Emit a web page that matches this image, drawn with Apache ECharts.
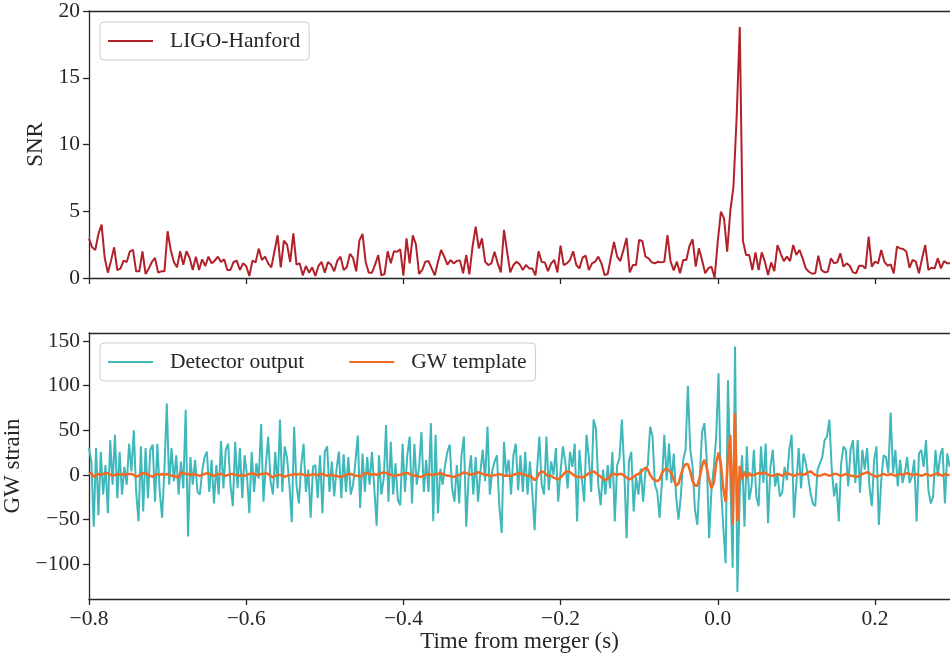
<!DOCTYPE html>
<html>
<head>
<meta charset="utf-8">
<script src="https://cdn.jsdelivr.net/npm/echarts@6/dist/echarts.min.js"></script>
<style>html,body{margin:0;padding:0;background:#fff}#c{width:950px;height:656px}</style>
</head>
<body>
<div id="c"></div>
<script>
// ---- data ----
const snrStart = -0.8, snrStep = 0.004;
const snrValues = [
2.95,2.3,2.1,3.3,4.0,1.5,0.4,1.3,2.3,0.6,
0.7,1.3,1.2,2.0,2.1,0.5,0.5,2.0,0.3,0.7,
1.2,1.5,0.4,0.5,0.5,3.5,2.1,1.2,0.8,2.0,
1.0,2.0,1.5,0.6,1.6,0.6,1.4,0.9,1.6,1.1,
1.3,1.6,1.2,1.4,0.6,0.6,1.2,1.3,0.6,1.1,
0.9,0.15,1.3,1.17,2.2,1.35,1.6,1.1,0.8,2.0,
3.2,0.8,2.8,2.5,1.2,3.35,1.0,1.1,0.2,0.9,
0.4,0.8,0.15,0.9,1.2,0.4,1.2,1.0,0.5,1.3,
1.6,0.6,0.8,1.8,1.5,0.5,2.8,3.3,1.2,0.4,
0.4,1.0,
1.72,0.2,0.3,2.0,1.1,2.0,1.97,2.15,0.17,2.97,
1.1,3.2,2.5,0.3,0.6,1.22,1.27,0.72,0.2,1.22,
2.1,1.6,1.0,1.35,1.1,1.27,1.32,0.35,1.72,0.27,
2.35,3.85,2.22,2.97,1.22,0.97,1.1,1.97,1.1,0.42,
3.6,1.97,0.42,0.97,1.22,1.02,0.6,0.97,0.72,0.72,
0.2,2.0,1.2,1.17,0.52,1.1,1.35,0.42,2.42,0.97,
1.1,1.35,2.0,0.97,0.72,1.52,1.67,0.6,1.1,1.22,
1.6,1.1,0.22,0.3,1.52,2.7,1.6,1.27,2.1,3.0,
0.42,0.97,0.97,2.85,2.77,1.6,1.47,1.17,1.1,1.22,
1.17,1.22,3.22,1.22,0.57,1.22,0.35,1.35,1.35,2.4,
2.9,0.85,2.22,1.35,0.35,0.72,0.85,0.02,2.72,4.97,
4.47,1.97,5.02,6.84,12.0,18.8,2.8,1.72,1.72,0.6,
1.92,0.6,1.92,1.22,0.22,1.17,0.52,2.47,1.85,1.27,
1.6,1.27,2.47,1.72,2.1,1.47,0.72,0.47,0.32,0.35,
1.67,0.6,0.42,0.47,1.47,1.1,1.17,1.85,0.85,1.1,
0.92,0.42,0.35,0.92,0.92,0.72,3.1,0.85,1.22,1.1,
2.1,1.22,0.92,1.02,0.35,2.35,2.22,2.17,1.97,0.77,
1.35,1.22,0.35,1.47,2.47,0.6,0.77,0.72,1.47,0.72,
1.27,1.1,1.1
];

const strainStart = -0.8, strainStep = 0.003;
const detectorValues = [
30,15,-58,30,-45,26,-22,11,-43,39,
-11,45,-26,26,-22,9,-11,35,4,50,
-19,-52,32,-41,30,-26,28,34,-30,35,
-19,-48,7,80,-11,30,-7,22,-22,15,
-15,73,-69,20,-11,17,-19,-22,4,20,
26,-19,17,-32,11,-22,38,-15,28,35,
-11,-35,37,-15,30,-26,22,0,-43,26,
-19,13,-4,57,-30,11,43,-7,-22,26,
-15,62,-19,32,19,-11,-53,54,-11,-32,
11,35,-19,6,-48,9,11,-26,22,-43,
26,32,-19,15,-24,7,26,-26,23,-19,
20,-22,-11,15,44,-37,24,-19,20,-11,
26,-15,-57,
22,-22,-4,56,-30,37,-22,13,-28,-34,
35,-19,22,43,-32,35,-11,9,48,-19,
17,-19,58,-52,45,-43,7,-11,11,26,
34,-15,-30,11,-32,22,43,-58,-2,22,
-22,20,-30,4,28,-7,54,-22,4,15,
22,-34,-65,37,0,
17,-22,22,35,-17,22,-19,26,-22,15,
-19,-62,4,43,-11,-22,43,-17,15,0,
30,-30,4,32,15,-15,26,9,35,-52,
28,-4,-30,45,19,-19,62,52,-11,-34,
6,-22,11,-15,26,-52,11,19,62,7,
-71,15,26,-41,-2,-22,7,-30,4,11,
54,43,-11,-19,-48,-7,
45,-6,35,-9,24,-24,-50,-24,17,28,
100,28,9,-39,-56,-6,48,58,17,-71,
-17,9,43,114,-13,-58,-99,106,-5,-104,
144,-131,-20,22,-58,32,-28,-13,28,-24,
-35,32,-9,35,-54,9,28,-13,2,-24,
-20,9,-6,28,45,-48,-9,30,-15,24,
13,-2,-20,-32,-35,6,13,20,39,43,
62,7,-24,-9,-52,13,32,28,-13,28,
39,-9,39,-20,28,6,30,-13,-35,17,
32,-56,-6,22,20,2,70,2,28,-13,
17,-9,2,20,-9,-2,17,-52,24,28,
9,39,-17,-32,-24,28,-2,22,30,-32,
24,9
];
const templateValues = [
1,2,-2,0,1,0,1,2,2,0,
-1,0,1,0,1,0,1,1,1,0,
-2,-1,1,2,2,0,-1,-2,0,1,
0,1,0,1,0,-1,-1,-2,-3,3,
2,1,1,0,1,0,0,-1,0,1,
2,1,0,-1,0,1,1,0,-1,0,
1,1,0,0,-1,0,-1,0,1,2,
1,0,0,1,1,2,1,-1,-3,-1,
0,0,-1,-2,-1,0,0,1,0,1,
1,0,0,-1,0,1,0,0,1,1,
0,-1,0,0,-1,-1,-2,-2,-1,0,
1,1,0,-1,-1,-2,0,2,2,1,
0,1,0,
1,2,3,2,1,0,-1,-1,0,0,
1,2,2,1,0,-1,-1,-2,-2,-1,
0,1,0,0,1,1,2,1,0,-1,
-1,-2,-2,-1,0,1,3,2,1,0,
1,2,3,2,1,0,0,-1,-1,0,
0,1,0,-1,-1,-1,-1,0,1,2,
1,1,0,-1,-1,-3,-6,-3,2,4,
3,0,-1,-1,-3,-4,-5,-3,0,3,
4,3,1,-1,-2,-2,-3,-2,0,2,
3,4,2,0,-2,-4,-6,-4,-1,1,
1,0,1,1,-1,-3,-5,-4,-2,0,
1,3,6,8,6,0,-4,-6,-7,-5,
2,
6,7,5,2,-5,-12,-10,0,8,12,
12,4,-7,-12,-12,-3,10,17,8,-5,
-15,-9,13,25,12,-15,-30,20,45,-56,
69,-52,10,-5,4,-3,2,-1,0,1,
2,1,3,2,0,-1,-1,0,1,0,
-1,1,2,1,0,-1,0,1,1,0,
1,3,4,2,0,-1,-1,0,1,0,
-1,0,1,1,0,-1,0,1,0,-1,
-1,-2,-2,0,1,2,3,2,0,-1,
-2,-1,0,1,0,0,1,0,-1,0,
1,0,1,2,1,0,0,1,0,-1,
0,1,0,-1,0,1,2,0,-1,1,
0,0
];

const xTickValues = [-0.8, -0.6, -0.4, -0.2, 0, 0.2];
const snrTickValues = [0, 5, 10, 15, 20];
const strainTickValues = [-100, -50, 0, 50, 100, 150];

// ---- build ----
function pairs(start, step, vals) {
  return vals.map((v, i) => [start + i * step, v]);
}
const FONT = 'Liberation Serif';
const INK = '#262626';
const XMIN = -0.8, XMAX = 0.2955;
const fmtX = v => (v < 0 ? '\u2212' + Math.abs(v).toFixed(1) : v.toFixed(1));
const fmtY = v => (v < 0 ? '\u2212' + Math.abs(v) : String(v));

const axisLine = { show: true, onZero: false, lineStyle: { color: INK, width: 1.3 } };
const axisTick = vals => ({ show: true, length: 6, lineStyle: { color: INK, width: 1.3 }, customValues: vals });
const label = (vals, fmt) => ({ show: true, fontFamily: FONT, fontSize: 21.5, color: INK, margin: 9, customValues: vals, formatter: fmt });
const legendBase = {
  orient: 'horizontal', icon: 'rect', itemWidth: 45, itemHeight: 2, padding: [8, 9, 8, 8],
  backgroundColor: 'rgba(255,255,255,0.8)', borderColor: '#cccccc', borderWidth: 1, borderRadius: 4,
  textStyle: { fontFamily: FONT, fontSize: 21.5, color: INK, padding: [0, 0, 0, 12] }
};

const chart = echarts.init(document.getElementById('c'), null, { renderer: 'canvas' });
chart.setOption({
  animation: false,
  backgroundColor: '#ffffff',
  grid: [
    { left: 89, right: 0, top: 11, height: 267, containLabel: false, outerBoundsMode: 'none' },
    { left: 89, right: 0, top: 333, height: 266, containLabel: false, outerBoundsMode: 'none' }
  ],
  legend: [
    Object.assign({}, legendBase, { data: ['LIGO-Hanford'], left: 100, top: 22 }),
    Object.assign({}, legendBase, { data: ['Detector output', 'GW template'], left: 100, top: 343, itemGap: 45 })
  ],
  xAxis: [
    { type: 'value', gridIndex: 0, min: XMIN, max: XMAX, axisLine, axisTick: axisTick(xTickValues),
      axisLabel: { show: false }, splitLine: { show: false } },
    { type: 'value', gridIndex: 0, position: 'top', min: XMIN, max: XMAX, axisLine,
      axisTick: { show: false }, axisLabel: { show: false }, splitLine: { show: false } },
    { type: 'value', gridIndex: 1, min: XMIN, max: XMAX, axisLine, axisTick: axisTick(xTickValues),
      axisLabel: label(xTickValues, fmtX), splitLine: { show: false },
      name: 'Time from merger (s)', nameLocation: 'middle', nameGap: 30,
      nameTextStyle: { fontFamily: FONT, fontSize: 23, color: INK } },
    { type: 'value', gridIndex: 1, position: 'top', min: XMIN, max: XMAX, axisLine,
      axisTick: { show: false }, axisLabel: { show: false }, splitLine: { show: false } }
  ],
  yAxis: [
    { type: 'value', gridIndex: 0, min: 0, max: 20, interval: 5, axisLine,
      axisTick: axisTick(snrTickValues), axisLabel: label(snrTickValues, fmtY), splitLine: { show: false },
      name: 'SNR', nameLocation: 'middle', nameGap: 37, nameRotate: 90,
      nameTextStyle: { fontFamily: FONT, fontSize: 23, color: INK } },
    { type: 'value', gridIndex: 1, min: -139, max: 159, axisLine,
      axisTick: axisTick(strainTickValues), axisLabel: label(strainTickValues, fmtY), splitLine: { show: false },
      name: 'GW strain', nameLocation: 'middle', nameGap: 63, nameRotate: 90,
      nameTextStyle: { fontFamily: FONT, fontSize: 23, color: INK } }
  ],
  series: [
    { name: 'LIGO-Hanford', type: 'line', xAxisIndex: 0, yAxisIndex: 0, symbol: 'none', showSymbol: false,
      data: pairs(snrStart, snrStep, snrValues), lineStyle: { color: '#b2212a', width: 2 }, itemStyle: { color: '#b2212a' } },
    { name: 'Detector output', type: 'line', xAxisIndex: 2, yAxisIndex: 1, symbol: 'none', showSymbol: false,
      data: pairs(strainStart, strainStep, detectorValues), lineStyle: { color: '#3fb8bb', width: 2 }, itemStyle: { color: '#3fb8bb' } },
    { name: 'GW template', type: 'line', xAxisIndex: 2, yAxisIndex: 1, symbol: 'none', showSymbol: false,
      data: pairs(strainStart, strainStep, templateValues), lineStyle: { color: '#f26a24', width: 2.5 }, itemStyle: { color: '#f26a24' } }
  ]
});
</script>
</body>
</html>
